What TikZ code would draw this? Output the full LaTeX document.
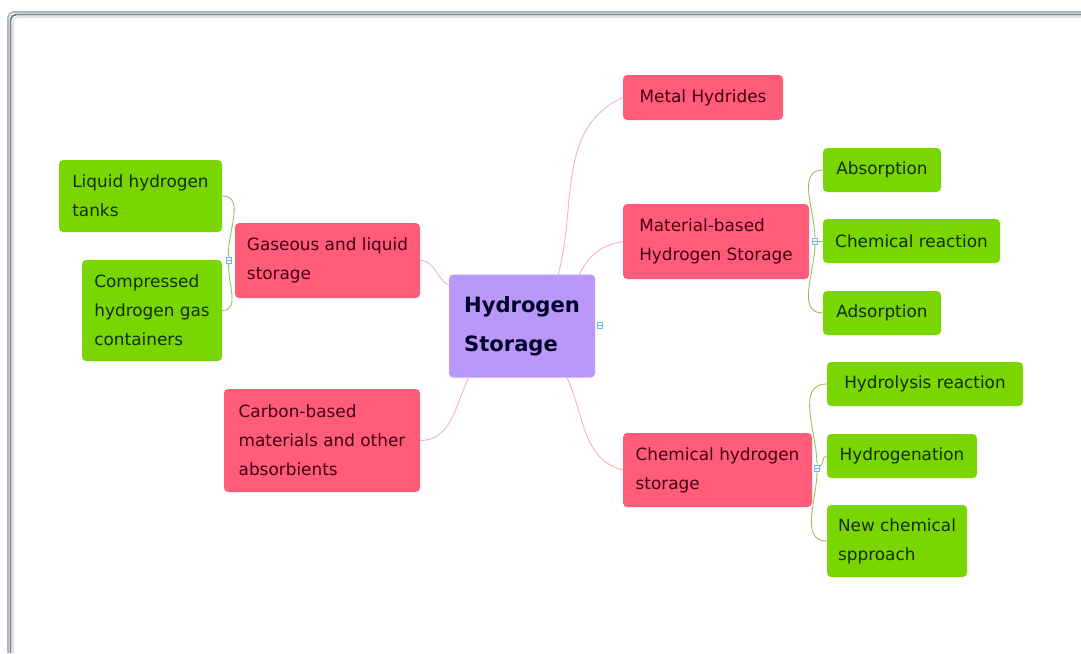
\documentclass[tikz,border=0pt]{standalone}
\usepackage{fontspec}
\setmainfont{DejaVu Sans}
\definecolor{hubfill}{RGB}{186,152,250}
\definecolor{topicfill}{RGB}{255,92,122}
\definecolor{leaffill}{RGB}{122,214,0}
\definecolor{topictext}{RGB}{70,0,20}
\definecolor{leaftext}{RGB}{20,45,0}
\definecolor{pinkline}{RGB}{246,172,188}
\definecolor{leafline}{RGB}{150,188,80}
\definecolor{markerblue}{RGB}{120,180,230}
\definecolor{framegray}{RGB}{122,132,142}
\tikzset{
  hub/.style={rectangle, rounded corners=3pt, fill=hubfill, text={black!85!blue}, align=left, inner sep=0pt, font=\fontsize{15}{28}\selectfont\bfseries},
  topic/.style={rectangle, rounded corners=3pt, fill=topicfill, text=topictext, align=left, inner sep=0pt, font=\fontsize{12}{20.5}\selectfont},
  leaf/.style={rectangle, rounded corners=3pt, fill=leaffill, text=leaftext, align=left, inner sep=0pt, font=\fontsize{12}{20.5}\selectfont},
  marker/.style={rectangle, draw=markerblue, fill=white, line width=0.4pt, inner sep=0pt, minimum width=3.5pt, minimum height=4.5pt, path picture={\draw[markerblue, line width=0.3pt] (path picture bounding box.west) -- (path picture bounding box.east);}},
  topicline/.style={draw=pinkline, line width=0.6pt},
  leafline/.style={draw=leafline, line width=0.6pt}
}
\begin{document}
\begin{tikzpicture}
\pgfmathsetlengthmacro\px{0.025cm};
\tikzset{x=\px, y=-\px}
\useasboundingbox (0,0) rectangle (1081,653);
\draw[framegray!60, line width=1.2pt, rounded corners=4pt] (8,653) -- (8,12) -- (1081,12);
\draw[framegray, line width=1.4pt, rounded corners=4pt] (10.5,653) -- (10.5,14.5) -- (1081,14.5);
\draw[framegray!35, line width=0.8pt, rounded corners=3pt] (13,653) -- (13,17) -- (1081,17);
\node[hub, minimum width=146*\px, minimum height=103*\px] (hs) at (522,326) {Hydrogen\\Storage};
\node[topic, minimum width=160*\px, minimum height=45*\px] (metal) at (703,97.5) {Metal Hydrides};
\node[topic, minimum width=186*\px, minimum height=75*\px] (matbased) at (716,241.5) {Material-based\\Hydrogen Storage};
\node[topic, minimum width=189*\px, minimum height=74*\px] (chemstore) at (717.5,470) {Chemical hydrogen\\storage};
\node[topic, minimum width=185*\px, minimum height=75*\px] (gasliq) at (327.5,260.5) {Gaseous and liquid\\storage};
\node[topic, minimum width=196*\px, minimum height=103*\px] (carbon) at (322,440.5) {Carbon-based\\materials and other\\absorbients};
\node[leaf, minimum width=163*\px, minimum height=72*\px] (liqtank) at (140.5,196) {Liquid hydrogen\\tanks};
\node[leaf, minimum width=140*\px, minimum height=101*\px] (compressed) at (152,310.5) {Compressed\\hydrogen gas\\containers};
\node[leaf, minimum width=118*\px, minimum height=44*\px] (absorp) at (882,170) {Absorption};
\node[leaf, minimum width=177*\px, minimum height=44*\px] (chemreact) at (911.5,241) {Chemical reaction};
\node[leaf, minimum width=118*\px, minimum height=44*\px] (adsorp) at (882,313) {Adsorption};
\node[leaf, minimum width=196*\px, minimum height=44*\px] (hydrolysis) at (925,384) {Hydrolysis reaction};
\node[leaf, minimum width=150*\px, minimum height=44*\px] (hydrogenation) at (902,456) {Hydrogenation};
\node[leaf, minimum width=140*\px, minimum height=72*\px] (newchem) at (897,541) {New chemical\\spproach};
\node[marker] (hubmark) at (600,325) {};
\node[marker] (gasmark) at (229,260) {};
\node[marker] (matmark) at (815,241) {};
\node[marker] (chemmark) at (817,468) {};
\draw[topicline] (hs.55) to[out=75, in=205] (metal.west);
\draw[topicline] (hs.42) to[out=65, in=190] (matbased.west);
\draw[topicline] (hs.-49) to[out=-65, in=165] (chemstore.west);
\draw[topicline] (hs.151) to[out=150, in=0] (gasliq.east);
\draw[topicline] (hs.-136) to[out=-115, in=0] (carbon.east);
\draw[leafline] (gasmark) to[out=95, in=0] (liqtank.east);
\draw[leafline] (gasmark) to[out=-95, in=0] (compressed.east);
\draw[leafline] (matmark) to[out=90, in=180] (absorp.west);
\draw[leafline] (matmark) -- (chemreact.west);
\draw[leafline] (matmark) to[out=-90, in=180] (adsorp.west);
\draw[leafline] (chemmark) to[out=90, in=180] (hydrolysis.west);
\draw[leafline] (chemmark) to[out=30, in=180] (hydrogenation.west);
\draw[leafline] (chemmark) to[out=-90, in=180] (newchem.west);
\end{tikzpicture}
\end{document}
